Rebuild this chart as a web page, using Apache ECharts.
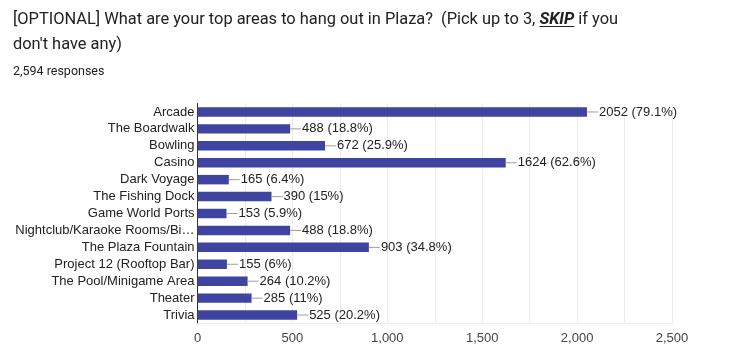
<!DOCTYPE html>
<html>
<head>
<meta charset="utf-8">
<script src="https://cdn.jsdelivr.net/npm/echarts@6/dist/echarts.min.js"></script>
<style>
  html, body { margin: 0; padding: 0; background: #fff; }
  #chart { width: 745px; height: 350px; }
</style>
</head>
<body>
<div id="chart"></div>
<script>
// Survey answers, top to bottom
const categories = [
  'Arcade',
  'The Boardwalk',
  'Bowling',
  'Casino',
  'Dark Voyage',
  'The Fishing Dock',
  'Game World Ports',
  'Nightclub/Karaoke Rooms/Bi\u2026',
  'The Plaza Fountain',
  'Project 12 (Rooftop Bar)',
  'The Pool/Minigame Area',
  'Theater',
  'Trivia'
];
const counts = [2052, 488, 672, 1624, 165, 390, 153, 488, 903, 155, 264, 285, 525];
const percents = ['79.1', '18.8', '25.9', '62.6', '6.4', '15', '5.9', '18.8', '34.8', '6', '10.2', '11', '20.2'];
const xTicks = [0, 500, 1000, 1500, 2000, 2500];

const titleLine1Before = '[OPTIONAL] What are your top areas to hang out in Plaza?  (Pick up to 3, ';
const titleSkip = 'SKIP';
const titleLine1After = ' if you';
const titleLine2 = "don't have any)";
const responsesText = '2,594 responses';

const TITLE_FONT = 'Roboto, Arial, sans-serif';
const AXIS_FONT = '"Liberation Sans", Arial, sans-serif';
const TITLE_SIZE = 16.4;

// Measure where the emphasised word sits so it can be underlined
function textWidth(str, font) {
  const c = document.createElement('canvas').getContext('2d');
  c.font = font;
  return c.measureText(str).width;
}
const titleLeft = 13;
const skipX = titleLeft + textWidth(titleLine1Before, TITLE_SIZE + 'px ' + TITLE_FONT);
const skipW = textWidth(titleSkip, 'italic bold ' + TITLE_SIZE + 'px ' + TITLE_FONT);

const chart = echarts.init(document.getElementById('chart'), null, { renderer: 'canvas' });

chart.setOption({
  animation: false,
  backgroundColor: '#ffffff',
  title: [
    {
      left: titleLeft,
      top: 7,
      padding: 0,
      text: titleLine1Before + '{skip|' + titleSkip + '}' + titleLine1After + '\n' + titleLine2,
      textStyle: {
        fontFamily: TITLE_FONT,
        fontSize: TITLE_SIZE,
        fontWeight: 'normal',
        color: '#202124',
        lineHeight: 25,
        rich: {
          skip: {
            fontFamily: TITLE_FONT,
            fontSize: TITLE_SIZE,
            fontWeight: 'bold',
            fontStyle: 'italic',
            color: '#202124',
            lineHeight: 25
          }
        }
      }
    },
    {
      left: titleLeft,
      top: 65,
      padding: 0,
      text: responsesText,
      textStyle: {
        fontFamily: TITLE_FONT,
        fontSize: 12.5,
        fontWeight: 'normal',
        color: '#202124'
      }
    }
  ],
  graphic: [
    {
      type: 'line',
      shape: { x1: skipX, y1: 26.5, x2: skipX + skipW, y2: 26.5 },
      style: { stroke: '#202124', lineWidth: 1.2 }
    }
  ],
  grid: {
    left: 197.5,
    right: 73,
    top: 103.5,
    bottom: 26.5,
    containLabel: false
  },
  xAxis: {
    type: 'value',
    min: 0,
    max: 2500,
    interval: 250,
    axisLine: { show: true, lineStyle: { color: '#ebebeb' } },
    axisTick: { show: false },
    splitLine: { show: true, lineStyle: { color: '#ebebeb', width: 1 } },
    axisLabel: {
      color: '#444',
      fontFamily: AXIS_FONT,
      fontSize: 13,
      margin: 8,
      formatter: v => xTicks.includes(v) ? v.toLocaleString('en-US') : ''
    }
  },
  yAxis: {
    type: 'category',
    inverse: true,
    data: categories,
    axisLine: { show: true, lineStyle: { color: '#333', width: 1 } },
    axisTick: { show: false },
    splitLine: { show: false },
    axisLabel: {
      color: '#222',
      fontFamily: AXIS_FONT,
      fontSize: 13,
      margin: 3
    }
  },
  series: [
    {
      type: 'bar',
      data: counts,
      barCategoryGap: '44%',
      itemStyle: { color: '#3e44a0' },
      label: {
        show: true,
        position: 'right',
        distance: 0,
        formatter: p => '{ln|}{v|' + p.value + ' (' + percents[p.dataIndex] + '%)}',
        rich: {
          ln: { width: 11, height: 1, backgroundColor: '#9e9e9e' },
          v: {
            color: '#222',
            fontFamily: AXIS_FONT,
            fontSize: 13,
            padding: [0, 0, 0, 1]
          }
        }
      }
    }
  ]
});
</script>
</body>
</html>
